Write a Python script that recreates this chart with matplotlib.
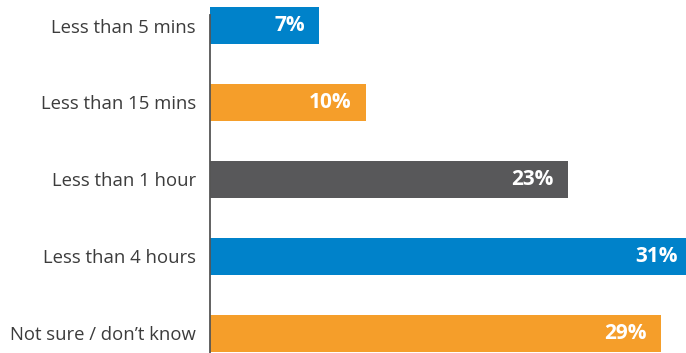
import matplotlib
matplotlib.use("Agg")
import matplotlib.pyplot as plt

categories = ["Less than 5 mins", "Less than 15 mins", "Less than 1 hour",
              "Less than 4 hours", "Not sure / don\u2019t know"]
values = [7, 10, 23, 31, 29]
labels = ["7%", "10%", "23%", "31%", "29%"]
colors = ["#0082CA", "#F59E2A", "#58585A", "#0082CA", "#F59E2A"]

plt.rcParams['font.family'] = ['Open Sans', 'DejaVu Sans']

fig = plt.figure(figsize=(6.86, 3.53), dpi=100)
ax = fig.add_axes([210/686, 0, 476/686, 1])

ypos = list(range(len(categories)))
ax.barh(ypos, values, height=0.48, color=colors, zorder=2)
ax.set_xlim(0, 476/15.55)
ax.set_ylim(4.259, -0.332)

for y, v, lab in zip(ypos, values, labels):
    ax.annotate(lab, xy=(v, y), xytext=(-10, 0), textcoords='offset points',
                ha='right', va='center', color='white', fontsize=15,
                fontweight='bold', zorder=3, annotation_clip=False)

ax.set_yticks(ypos)
ax.set_yticklabels(categories, fontsize=13.3, color='#3c3c3c')
ax.tick_params(axis='y', length=0, pad=10)
ax.set_xticks([])
for s in ['top', 'right', 'bottom']:
    ax.spines[s].set_visible(False)
ax.spines['left'].set_color('#555555')
ax.spines['left'].set_linewidth(1.3)
ax.spines['left'].set_bounds(-0.137, 4.259)
ax.spines['left'].set_zorder(4)

fig.savefig("out.png", dpi=100)
